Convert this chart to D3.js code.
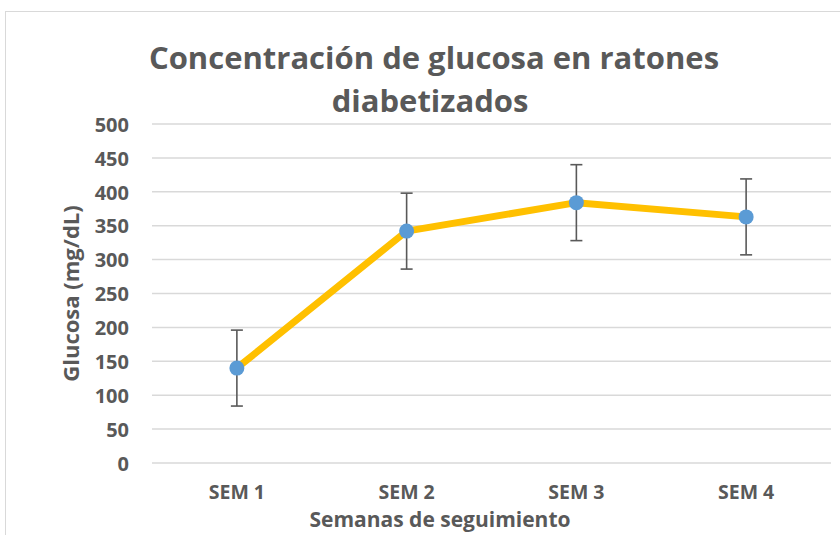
<!DOCTYPE html>
<html>
<head>
<meta charset="utf-8">
<script src="https://cdn.jsdelivr.net/npm/d3@7"></script>
<style>
  body { margin: 0; background: #fff; }
  text { font-family: "Open Sans", "Noto Sans", sans-serif; font-weight: bold; fill: #595959; }
</style>
</head>
<body>
<div id="chart"></div>
<script>
// data
var weeks = ['SEM 1', 'SEM 2', 'SEM 3', 'SEM 4'];
var glucose = [140, 342, 384, 363];
var errors = [56, 56, 56, 56];
var yTicks = [0, 50, 100, 150, 200, 250, 300, 350, 400, 450, 500];

// svg container
var width = 840;
var height = 535;

var margin = { top: 124, right: 9, bottom: 72, left: 152 };
var chartWidth = width - margin.left - margin.right;
var chartHeight = height - margin.top - margin.bottom;

var svg = d3.select('#chart').append('svg')
    .attr('width', width)
    .attr('height', height);

// chart border
svg.append('rect')
    .attr('x', 5.5)
    .attr('y', 11.5)
    .attr('width', 850)
    .attr('height', 540)
    .attr('fill', 'none')
    .attr('stroke', '#d9d9d9')
    .attr('stroke-width', 1);

var chartGroup = svg.append('g')
    .attr('transform', `translate(${margin.left}, ${margin.top})`);

// scales
var xScale = d3.scaleBand()
    .domain(weeks)
    .range([0, chartWidth]);

var yScale = d3.scaleLinear()
    .domain([0, 500])
    .range([chartHeight, 0]);

// gridlines
chartGroup.selectAll('.grid')
    .data(yTicks)
    .enter()
    .append('line')
    .attr('x1', 0)
    .attr('x2', chartWidth)
    .attr('y1', d => yScale(d))
    .attr('y2', d => yScale(d))
    .attr('stroke', '#d9d9d9')
    .attr('stroke-width', 1.5);

// y axis
var yAxis = d3.axisLeft(yScale).tickValues(yTicks).tickSize(0).tickPadding(23);
var yG = chartGroup.append('g').call(yAxis);
yG.select('.domain').remove();
yG.selectAll('text')
    .style('font-size', '20px')
    .attr('font-family', null)
    .attr('fill', null)
    .attr('dy', '0.36em');

// x axis
var xAxis = d3.axisBottom(xScale).tickSize(0).tickPadding(22);
var xG = chartGroup.append('g')
    .attr('transform', `translate(0, ${chartHeight})`)
    .call(xAxis);
xG.select('.domain').remove();
xG.selectAll('text')
    .style('font-size', '19.5px')
    .attr('font-family', null)
    .attr('fill', null);

var cx = d => xScale(d) + xScale.bandwidth() / 2;

// error bars
var errG = chartGroup.selectAll('.err')
    .data(weeks)
    .enter()
    .append('g')
    .attr('stroke', '#595959')
    .attr('stroke-width', 1.6);

errG.append('line')
    .attr('x1', d => cx(d))
    .attr('x2', d => cx(d))
    .attr('y1', (d, i) => yScale(glucose[i] + errors[i]))
    .attr('y2', (d, i) => yScale(glucose[i] - errors[i]));

errG.append('line')
    .attr('x1', d => cx(d) - 6)
    .attr('x2', d => cx(d) + 6)
    .attr('y1', (d, i) => yScale(glucose[i] + errors[i]))
    .attr('y2', (d, i) => yScale(glucose[i] + errors[i]));

errG.append('line')
    .attr('x1', d => cx(d) - 6)
    .attr('x2', d => cx(d) + 6)
    .attr('y1', (d, i) => yScale(glucose[i] - errors[i]))
    .attr('y2', (d, i) => yScale(glucose[i] - errors[i]));

// line
var line = d3.line()
    .x((d, i) => cx(weeks[i]))
    .y(d => yScale(d));

chartGroup.append('path')
    .datum(glucose)
    .attr('d', line)
    .attr('fill', 'none')
    .attr('stroke', '#ffc000')
    .attr('stroke-width', 7)
    .attr('stroke-linejoin', 'round');

// markers
chartGroup.selectAll('circle')
    .data(glucose)
    .enter()
    .append('circle')
    .attr('cx', (d, i) => cx(weeks[i]))
    .attr('cy', d => yScale(d))
    .attr('r', 7.5)
    .attr('fill', '#5b9bd5');

// title
var title = svg.append('text')
    .attr('text-anchor', 'middle')
    .style('font-size', '31px');
title.append('tspan').attr('x', 434).attr('y', 69).text('Concentración de glucosa en ratones');
title.append('tspan').attr('x', 430).attr('y', 112).text('diabetizados');

// axis titles
svg.append('text')
    .attr('transform', `translate(79, ${margin.top + chartHeight / 2}) rotate(-90)`)
    .attr('text-anchor', 'middle')
    .style('font-size', '22px')
    .text('Glucosa (mg/dL)');

svg.append('text')
    .attr('x', 440)
    .attr('y', 527)
    .attr('text-anchor', 'middle')
    .style('font-size', '21px')
    .text('Semanas de seguimiento');
</script>
</body>
</html>
